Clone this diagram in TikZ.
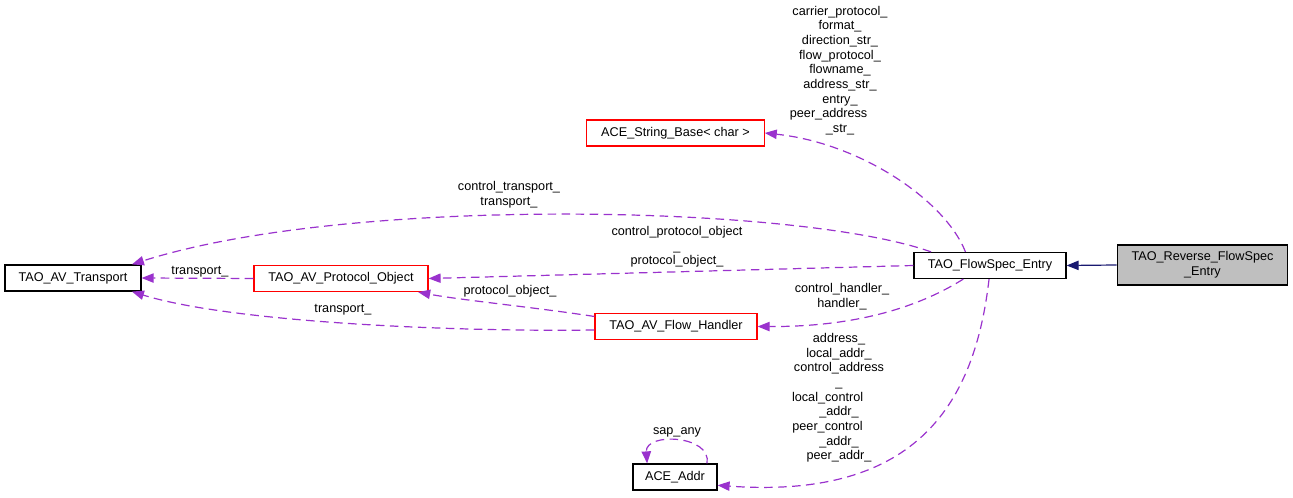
\documentclass[tikz,border=0pt]{standalone}
\usepackage{fontspec}
\setmainfont{Liberation Sans}
\usetikzlibrary{arrows.meta}
\definecolor{edgepurple}{HTML}{9A32CD}
\definecolor{navyedge}{HTML}{191970}
\definecolor{grayfill}{HTML}{BFBFBF}
\newcommand{\tailgap}{\rule{1.8em}{0pt}}

\begin{document}
\begin{tikzpicture}[
        x=0.75pt, y=-0.75pt,
        font=\fontsize{9.5}{11}\selectfont,
        classbox/.style={draw, line width=0.9pt, minimum height=19.5pt, inner sep=2pt, align=center},
        redbox/.style={classbox, draw=red},
        usage/.style={-{Triangle[length=9pt, width=7pt]}, edgepurple, line width=0.9pt, dash pattern=on 6.5pt off 4pt},
        inherit/.style={-{Triangle[length=9pt, width=7pt]}, navyedge, line width=0.9pt},
        lbl/.style={align=center, inner sep=0pt}
    ]
        \useasboundingbox (0,0) rectangle (1293,498);

        % Klassen
        \node[classbox, minimum width=102pt] (transport) at (73,278) {TAO\_AV\_Transport};
        \node[redbox, minimum width=130.5pt] (protobj) at (341,278.5) {TAO\_AV\_Protocol\_Object};
        \node[redbox, minimum width=133pt] (strbase) at (675.5,133) {ACE\_String\_Base< char >};
        \node[classbox, minimum width=114pt] (flowspec) at (990,265.5) {TAO\_FlowSpec\_Entry};
        \node[classbox, fill=grayfill, minimum width=128pt, minimum height=30pt] (reverse) at (1202.5,265) {TAO\_Reverse\_FlowSpec\\\_Entry};
        \node[redbox, minimum width=121.5pt] (flowhandler) at (676,326.5) {TAO\_AV\_Flow\_Handler};
        \node[classbox, minimum width=63pt] (addr) at (675,477) {ACE\_Addr};

        % Vererbung
        \draw[inherit] (reverse.west) -- (flowspec.east);

        % Beziehungen von TAO_FlowSpec_Entry
        \draw[usage] (flowspec.151) .. controls (945,200) and (860,143) .. (strbase.east);
        \draw[usage] (flowspec.167) .. controls (800,205) and (350,195) .. (transport.13);
        \draw[usage] (flowspec.west) -- (protobj.east);
        \draw[usage] (flowspec.207) .. controls (930,300) and (870,327) .. (flowhandler.east);
        \draw[usage] (flowspec.266) .. controls (975,400) and (920,500) .. (addr.-11);

        % Restliche Beziehungen
        \draw[usage] (protobj.west) -- (transport.east);
        \draw[usage] (flowhandler.173) .. controls (540,308) and (460,300) .. (protobj.-10);
        \draw[usage] (flowhandler.west |- 0,330) .. controls (450,332) and (230,322) .. (transport.-13.5);
        \draw[usage] (addr.23) .. controls (712,435) and (645,432) .. (addr.154);

        % Beschriftungen
        \node[lbl] (lblstr) at (840,70.5) {carrier\_protocol\_\\format\_\\direction\_str\_\\flow\_protocol\_\\flowname\_\\address\_str\_\\entry\_\\peer\_address\tailgap\\\_str\_};
        \node[lbl] (lblctrans) at (509,195) {control\_transport\_\\transport\_};
        \node[lbl] (lblproto) at (677,247) {control\_protocol\_object\\\_\\protocol\_object\_};
        \node[lbl] (lblhandler) at (842,297) {control\_handler\_\\handler\_};
        \node[lbl] (lbltransp) at (200,272) {transport\_};
        \node[lbl] (lblpoh) at (510,291) {protocol\_object\_};
        \node[lbl] (lblhtrans) at (343,310) {transport\_};
        \node[lbl] (lbladdr) at (839,398) {address\_\\local\_addr\_\\control\_address\\\_\\local\_control\tailgap\\\_addr\_\\peer\_control\tailgap\\\_addr\_\\peer\_addr\_};
        \node[lbl] (lblsap) at (677,432) {sap\_any};
    \end{tikzpicture}
\end{document}
